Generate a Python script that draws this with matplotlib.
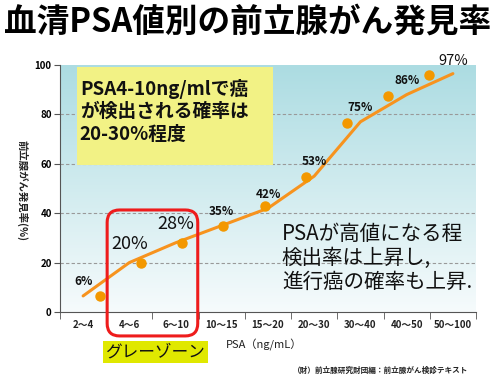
import matplotlib
matplotlib.use("Agg")
import matplotlib.pyplot as plt
from matplotlib.colors import LinearSegmentedColormap
from matplotlib.patches import FancyBboxPatch, Rectangle
import numpy as np

plt.rcParams['font.family'] = ['Noto Sans CJK JP', 'DejaVu Sans']

# PSA値の区分と発見率
categories = ["2～4", "4～6", "6～10", "10～15", "15～20", "20～30", "30～40", "40～50", "50～100"]
labels = ["6%", "20%", "28%", "35%", "42%", "53%", "75%", "86%", "97%"]
line_vals = [6.5, 20, 28, 35, 42, 55, 77, 88, 96.5]   # 折れ線
dot_vals = [6.5, 20, 28, 35, 43, 54.5, 76.5, 87.5, 96]  # 丸印
big_labels = ["20%", "28%"]
gray_zone = ["4～6", "6～10"]

fig = plt.figure(figsize=(5, 3.8), dpi=100)
ax = fig.add_axes([0.12, 0.179, 0.832, 0.65])
ax.set_xlim(0, len(categories))
ax.set_ylim(0, 100)

# 背景のグラデーション
cmap = LinearSegmentedColormap.from_list("bg", ["#f6fbfc", "#acdce2"])
grad = np.linspace(0, 1, 256).reshape(-1, 1)
ax.imshow(grad, cmap=cmap, origin="lower", aspect="auto",
          extent=[0, len(categories), 0, 100], zorder=0)

# 目盛り
xc = np.arange(len(categories)) + 0.5
ax.set_xticks(xc)
ax.set_xticklabels(categories, fontsize=7, fontweight="bold", color="#222")
ax.set_xticks(np.arange(len(categories) + 1), minor=True)
ax.tick_params(axis="x", which="major", length=0, pad=6)
ax.tick_params(axis="x", which="minor", length=5, color="#555", direction="out")
ax.set_yticks([0, 20, 40, 60, 80, 100])
ax.tick_params(axis="y", labelsize=7, length=4, color="#555", pad=2)
for t in ax.get_yticklabels():
    t.set_fontweight("bold")
for y in [20, 40, 60, 80]:
    ax.axhline(y, color="#999", lw=0.8, ls=(0, (3, 2)), zorder=1)
for s in ["top", "right"]:
    ax.spines[s].set_visible(False)
ax.spines["left"].set_color("#555")
ax.spines["bottom"].set_color("#555")

# 折れ線
ax.plot(xc, line_vals, color="#f7931e", lw=2.2, zorder=3, solid_capstyle="round")

# 丸印 (少しずれた位置に置かれている)
ax2 = ax.twiny()
ax2.set_xlim(-0.973, 9.14)
ax2.set_axis_off()
ax2.plot(np.arange(len(dot_vals)), dot_vals, "o", color="#f39800", ms=6.5, zorder=4)

for x, v, lab in zip(xc, line_vals, labels):
    if lab in big_labels:
        fs, off, fw = 13, 7, "normal"
    elif lab == "97%":
        fs, off, fw = 10.5, 4, "normal"
    else:
        fs, off, fw = 8.5, 5.5, "bold"
    ax.annotate(lab, (x, v), xytext=(0, off), textcoords="offset points",
                ha="center", va="bottom", fontsize=fs, fontweight=fw,
                color="#111", zorder=5)

# 黄色の説明ボックス
ax.add_patch(Rectangle((0.37, 59.5), 4.24, 39.7, facecolor="#f2f285", edgecolor="none", zorder=2))
ax.text(0.43, 94.5, "PSA4-10ng/mlで癌\nが検出される確率は\n20-30%程度", fontsize=13.5,
        fontweight="bold", va="top", ha="left", linespacing=1.25, zorder=3, color="#111")

# グレーゾーンの赤枠
gz0 = categories.index(gray_zone[0])
gz1 = categories.index(gray_zone[-1]) + 1
ax.add_patch(FancyBboxPatch((gz0 + 0.02, -9.7), gz1 - gz0 - 0.04, 51,
                            boxstyle="round,pad=0,rounding_size=0.27", mutation_aspect=18.7,
                            facecolor="none", edgecolor="#ee1c1c", lw=2.2, clip_on=False, zorder=6))
ax.text((gz0 + gz1) / 2 + 0.06, -16, "グレーゾーン", fontsize=12, ha="center", va="center",
        color="#111", bbox=dict(boxstyle="square,pad=0.15", fc="#e0e800", ec="none"))

# 右側のコメント
ax.text(4.8, 22, "PSAが高値になる程\n検出率は上昇し,\n進行癌の確率も上昇.", fontsize=14.8,
        ha="left", va="center", linespacing=1.12, color="#111", zorder=5)

fig.text(0.495, 0.942, "血清PSA値別の前立腺がん発見率", fontsize=23.5, fontweight="bold",
         ha="center", va="center")
fig.text(0.044, 0.5, "前立腺がん発見率(%)", fontsize=7.5, rotation=-90, ha="center", va="center",
         fontweight="bold", color="#222")
fig.text(0.528, 1 - 345 / 380, "PSA（ng/mL）", fontsize=8, ha="center", va="center", color="#222")
fig.text(0.936, 1 - 370 / 380, "（財）前立腺研究財団編：前立腺がん検診テキスト", fontsize=5.5,
         fontweight="bold", ha="right", va="center", color="#222")

fig.savefig("out.png", dpi=100)
